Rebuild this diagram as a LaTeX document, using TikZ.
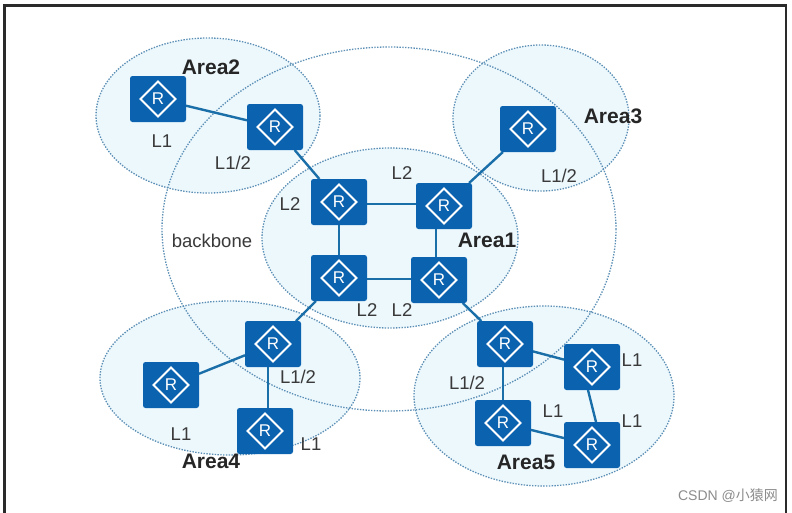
\documentclass[tikz,border=0pt]{standalone}
\usepackage{fontspec}
\setmainfont{Liberation Sans}
\newfontfamily\cjk{Noto Sans CJK SC}
\definecolor{routerblue}{HTML}{0B62AE}
\definecolor{linkblue}{HTML}{1A6FA8}
\definecolor{areafill}{HTML}{EDF8FD}
\definecolor{dotblue}{HTML}{5C8FB5}
\definecolor{frameblack}{HTML}{2A2A2A}
\definecolor{lab}{HTML}{3A3A3A}
\tikzset{
 areashape/.style={draw=dotblue,line width=1.3pt,dash pattern=on 1.4pt off 1.4pt},
 areafilled/.style={fill=areafill,draw=none},
 router/.pic={
   \fill[routerblue,rounded corners=2.5pt] (-28,-23) rectangle (28,23);
   \draw[white,line width=2pt,line join=miter] (-17.5,0) -- (0,-17.5) -- (17.5,0) -- (0,17.5) -- cycle;
   \node[text=white,font=\fontsize{17}{17}\selectfont] at (0,0) {R};
 },
 rnode/.style={minimum width=56pt,minimum height=46pt,inner sep=0pt,outer sep=0pt},
 link/.style={draw=linkblue,line width=2.4pt},
 lbl/.style={text=lab,font=\fontsize{18.5}{18.5}\selectfont,inner sep=0pt},
 area/.style={text=black!85,font=\fontsize{21}{21}\selectfont\bfseries,inner sep=0pt},
}
\begin{document}
\begin{tikzpicture}[x=1pt,y=-1pt]
\useasboundingbox (0,0) rectangle (792,512);
\fill[white] (0,0) rectangle (792,512);
\draw[frameblack,line width=2.5pt] (4.5,540) -- (4.5,5.5) -- (786,5.5) -- (786,540);
% area fills
\foreach \c/\rx/\ry in {{208,115.5}/112/77.5,{541,118}/88/73,{390,238}/128/90,{230,378}/130/77,{544,396}/130/90}
  \fill[areafilled] (\c) ellipse [x radius=\rx, y radius=\ry];
% area outlines
\foreach \c/\rx/\ry in {{208,115.5}/112/77.5,{389,229}/227/182,{541,118}/88/73,{390,238}/128/90,{230,378}/130/77,{544,396}/130/90}
  \draw[areashape] (\c) ellipse [x radius=\rx, y radius=\ry];
% router anchors
\foreach \n/\p in {a/{158,99},b/{275,127},c/{339,202},d/{444,206},e/{339,278},f/{439,280},g/{528,129},h/{505,344},i/{592,367},j/{503,423},k/{592,445},m/{273,344},n/{171,385},o/{265,431}}
  \node[rnode] (\n) at (\p) {};
% links
\draw[link] (a) -- (b);
\draw[link] (b) -- (c);
\draw[link] ([yshift=-2pt]c.east) -- ([yshift=2pt]d.west);
\draw[link] (c) -- (e);
\draw[link] ([xshift=-8pt]d.south) -- ([xshift=-3pt]f.north);
\draw[link] ([yshift=-1pt]e.east) -- ([yshift=1pt]f.west);
\draw[link] (d) -- (g);
\draw[link] (f) -- (h);
\draw[link] (e) -- (m);
\draw[link] (m) -- (n);
\draw[link] ([xshift=-5pt]m.south) -- ([xshift=3pt]o.north);
\draw[link] (h) -- (i);
\draw[link] ([xshift=-2pt]h.south) -- (j.north);
\draw[link] ([xshift=-4pt]i.south) -- ([xshift=4pt]k.north);
\draw[link] (j) -- (k);
% routers
\foreach \p in {{158,99},{275,127},{339,202},{444,206},{339,278},{439,280},{528,129},{505,344},{592,367},{503,423},{592,445},{273,344},{171,385},{265,431}}
  \path (\p) pic {router};
% labels
\node[area] (t1) at (211,67) {Area2};
\node[area] (t2) at (613,116) {Area3};
\node[area] (t3) at (487,240) {Area1};
\node[area] (t4) at (211,461) {Area4};
\node[area] (t5) at (526,462) {Area5};
\node[lbl] (t6) at (212,241) {backbone};
\node[lbl] (l1) at (162,141) {L1};
\node[lbl] (l2) at (233,163) {L1/2};
\node[lbl] (l3) at (290,204) {L2};
\node[lbl] (l4) at (402,173) {L2};
\node[lbl] (l5) at (559,176) {L1/2};
\node[lbl] (l6) at (367,310) {L2};
\node[lbl] (l7) at (402,310) {L2};
\node[lbl] (l8) at (298,377) {L1/2};
\node[lbl] (l9) at (181,434) {L1};
\node[lbl] (l10) at (311,444) {L1};
\node[lbl] (l11) at (467,383) {L1/2};
\node[lbl] (l12) at (553,411) {L1};
\node[lbl] (l13) at (632,360) {L1};
\node[lbl] (l14) at (632,421) {L1};
\node[text=black!45,font=\fontsize{14}{14}\selectfont,inner sep=0pt] (w) at (728,496) {CSDN @{\cjk 小猿网}};
\end{tikzpicture}
\end{document}
